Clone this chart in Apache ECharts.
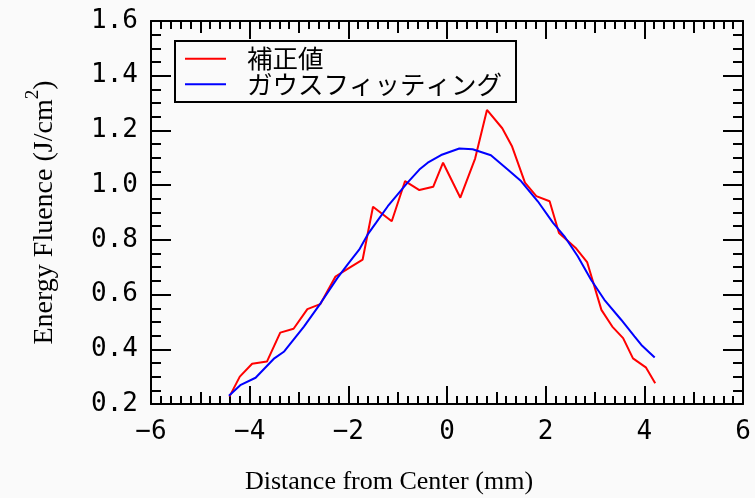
<!DOCTYPE html>
<html>
<head>
<meta charset="utf-8">
<script src="https://cdn.jsdelivr.net/npm/echarts@6/dist/echarts.min.js"></script>
<style>
  html, body { margin: 0; padding: 0; background: #fafafa; }
  #main { width: 755px; height: 498px; }
</style>
</head>
<body>
<div id="main"></div>
<script>
// measured (corrected) fluence
const measuredX = [-4.41, -4.20, -3.95, -3.65, -3.38, -3.11, -2.83, -2.57, -2.26, -1.99,
  -1.71, -1.50, -1.12, -0.85, -0.56, -0.28, -0.08, 0.27, 0.57, 0.81,
  1.12, 1.32, 1.58, 1.81, 2.08, 2.27, 2.62, 2.84, 3.13, 3.35,
  3.57, 3.77, 4.03, 4.22];
const measuredY = [0.227, 0.300, 0.347, 0.355, 0.461, 0.475, 0.547, 0.565, 0.666, 0.697,
  0.728, 0.921, 0.868, 1.015, 0.982, 0.994, 1.082, 0.954, 1.097, 1.275,
  1.208, 1.141, 1.009, 0.960, 0.941, 0.825, 0.768, 0.719, 0.544, 0.483,
  0.441, 0.367, 0.334, 0.276];

// gaussian fit
const fitX = [-4.42, -4.18, -3.88, -3.50, -3.30, -2.90, -2.56, -2.22, -1.99, -1.78,
  -1.61, -1.44, -1.20, -1.00, -0.80, -0.56, -0.39, -0.12, 0.25, 0.52,
  0.89, 1.23, 1.50, 1.84, 2.15, 2.38, 2.65, 2.92, 3.19, 3.53,
  3.80, 3.94, 4.21];
const fitY = [0.230, 0.270, 0.296, 0.367, 0.392, 0.483, 0.569, 0.661, 0.716, 0.764,
  0.819, 0.862, 0.923, 0.966, 1.009, 1.057, 1.082, 1.110, 1.134, 1.131,
  1.109, 1.057, 1.015, 0.941, 0.862, 0.813, 0.740, 0.654, 0.581, 0.508,
  0.447, 0.416, 0.370];

const seriesNames = ['補正値', 'ガウスフィッティング'];
const xTitle = 'Distance from Center (mm)';
const yTitle = 'Energy Fluence (J/cm{sup|2})';
const xRange = [-6, 6];
const yRange = [0.2, 1.6];

const pairs = (xs, ys) => xs.map((x, i) => [x, ys[i]]);
const black = { color: '#000', width: 2 };
const labelFont = 'DejaVu Sans Mono';

function xAxisDef(position, interval, tickLen, main) {
  return {
    type: 'value', position, min: xRange[0], max: xRange[1], interval,
    axisLine: { show: main, onZero: false, lineStyle: { color: '#000', width: 2 } },
    axisTick: { inside: true, length: tickLen, lineStyle: black },
    minorTick: { show: main, splitNumber: 10, length: 8, lineStyle: black },
    splitLine: { show: false },
    axisLabel: { show: false }
  };
}
function yAxisDef(position, main) {
  return {
    type: 'value', position, min: yRange[0], max: yRange[1], interval: 0.2,
    axisLine: { show: main, onZero: false, lineStyle: { color: '#000', width: 2 } },
    axisTick: { inside: true, length: 20, lineStyle: black },
    minorTick: { show: true, splitNumber: 4, length: 10, lineStyle: black },
    splitLine: { show: false },
    axisLabel: { show: false }
  };
}

const xBottom = xAxisDef('bottom', 2, 18, true);
xBottom.axisLabel = {
  show: true, margin: 15, color: '#000', fontSize: 26, fontFamily: labelFont,
  formatter: v => String(v).replace('-', '\u2212')
};
xBottom.name = xTitle;
xBottom.nameLocation = 'middle';
xBottom.nameGap = 65;
xBottom.nameTextStyle = {
  fontFamily: 'Liberation Serif', fontSize: 26, color: '#000', padding: [0, 116, 0, 0]
};

const yLeft = yAxisDef('left', true);
yLeft.axisLabel = {
  show: true, margin: 13, color: '#000', fontSize: 26, fontFamily: labelFont,
  formatter: v => v.toFixed(1)
};
yLeft.name = yTitle;
yLeft.nameLocation = 'middle';
yLeft.nameGap = 86;
yLeft.nameTextStyle = {
  fontFamily: 'Liberation Serif', fontSize: 28, color: '#000', verticalAlign: 'bottom',
  rich: {
    sup: { fontFamily: 'Liberation Serif', fontSize: 19, color: '#000', padding: [0, 0, 22, 0], verticalAlign: 'bottom' }
  }
};

const myChart = echarts.init(document.getElementById('main'));
myChart.setOption({
  animation: false,
  backgroundColor: '#fafafa',
  grid: { left: 151, right: 12, top: 21, bottom: 94, outerBoundsMode: 'none' },
  legend: {
    orient: 'vertical', left: 175, top: 41,
    borderColor: '#000', borderWidth: 2, backgroundColor: '#fafafa',
    padding: [5, 14, 5, 10],
    icon: 'rect', itemWidth: 41, itemHeight: 2, itemGap: 0,
    selectedMode: false,
    textStyle: { fontFamily: 'Noto Sans CJK JP', fontSize: 25.5, lineHeight: 25, color: '#000', padding: [0, 0, 0, 16] },
    data: seriesNames
  },
  xAxis: [
    xBottom,
    xAxisDef('bottom', 1, 12, false),
    xAxisDef('top', 2, 18, true),
    xAxisDef('top', 1, 12, false)
  ],
  yAxis: [yLeft, yAxisDef('right', true)],
  series: [
    {
      type: 'line', name: seriesNames[0], data: pairs(measuredX, measuredY),
      xAxisIndex: 0, yAxisIndex: 0, symbol: 'none',
      lineStyle: { color: '#ff0000', width: 2 }, itemStyle: { color: '#ff0000' }
    },
    {
      type: 'line', name: seriesNames[1], data: pairs(fitX, fitY),
      xAxisIndex: 0, yAxisIndex: 0, symbol: 'none',
      lineStyle: { color: '#0000ff', width: 2 }, itemStyle: { color: '#0000ff' }
    }
  ]
});
</script>
</body>
</html>
